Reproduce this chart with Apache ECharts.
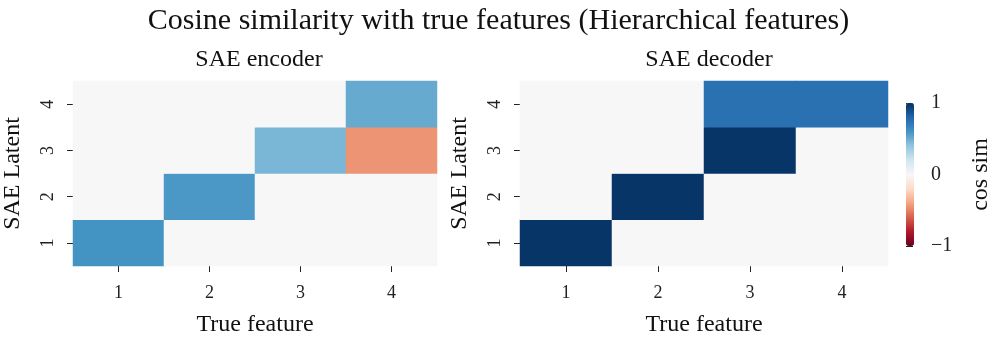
<!DOCTYPE html>
<html>
<head>
<meta charset="utf-8">
<script src="https://cdn.jsdelivr.net/npm/echarts@6/dist/echarts.min.js"></script>
<style>
  html, body { margin: 0; padding: 0; background: #fff; }
  #chart1 { width: 997px; height: 342px; }
</style>
</head>
<body>
<div id="chart1"></div>
<script>
var features = ['1', '2', '3', '4'];
var latents = ['1', '2', '3', '4'];
// rows = SAE latent 1..4, columns = true feature 1..4
var encoderValues = [
    [0.60, 0, 0, 0],
    [0, 0.58, 0, 0],
    [0, 0, 0.46, -0.45],
    [0, 0, 0, 0.51]
];
var decoderValues = [
    [0.98, 0, 0, 0],
    [0, 0.98, 0, 0],
    [0, 0, 0.98, 0],
    [0, 0, 0.75, 0.75]
];
var colorbarTicks = [-1, 0, 1];

var font = 'Liberation Serif';
var rdbu = ['#67001f', '#b2182b', '#d6604d', '#f4a582', '#fddbc7', '#f7f7f7',
    '#d1e5f0', '#92c5de', '#4393c3', '#2166ac', '#053061'];

function toCells(values) {
    var out = [];
    for (var r = 0; r < values.length; r++) {
        for (var c = 0; c < values[r].length; c++) {
            out.push([c, r, values[r][c]]);
        }
    }
    return out;
}

function xAxisFor(idx) {
    return {
        type: 'category', gridIndex: idx, data: features,
        name: 'True feature', nameLocation: 'middle', nameGap: 47,
        nameTextStyle: { fontFamily: font, fontSize: 24, color: '#111' },
        axisLine: { show: false },
        axisTick: { show: true, alignWithLabel: true, length: 6, lineStyle: { color: '#222' } },
        axisLabel: { fontFamily: font, fontSize: 18, color: '#222', margin: 18 },
        splitArea: { show: false }
    };
}
function yAxisFor(idx) {
    return {
        type: 'category', gridIndex: idx, data: latents,
        name: 'SAE Latent', nameLocation: 'middle', nameGap: 48,
        nameTextStyle: { fontFamily: font, fontSize: 24, color: '#111' },
        axisLine: { show: false },
        axisTick: { show: true, alignWithLabel: true, length: 6, lineStyle: { color: '#222' } },
        axisLabel: { fontFamily: font, fontSize: 18, color: '#222', rotate: 90, margin: 16 }
    };
}

var chart1 = echarts.init(document.getElementById('chart1'));
var option = {
    backgroundColor: '#fff',
    animation: false,
    title: [
        { text: 'Cosine similarity with true features (Hierarchical features)', left: 'center', top: 1,
          textStyle: { fontFamily: font, fontSize: 30, fontWeight: 'normal', color: '#111' } },
        { text: 'SAE encoder', left: 254, textAlign: 'center', top: 43,
          textStyle: { fontFamily: font, fontSize: 24, fontWeight: 'normal', color: '#111' } },
        { text: 'SAE decoder', left: 704, textAlign: 'center', top: 43,
          textStyle: { fontFamily: font, fontSize: 24, fontWeight: 'normal', color: '#111' } }
    ],
    grid: [
        { left: 72, top: 81, width: 365, height: 188 },
        { left: 520, top: 81, width: 368, height: 188 },
        { left: 906, top: 103, width: 8, height: 143 }
    ],
    xAxis: [
        xAxisFor(0),
        xAxisFor(1),
        { type: 'value', gridIndex: 2, show: false, min: 0, max: 1 }
    ],
    yAxis: [
        yAxisFor(0),
        yAxisFor(1),
        {
            type: 'value', gridIndex: 2, position: 'right', min: -1, max: 1, interval: 1,
            name: 'cos sim', nameLocation: 'middle', nameGap: 55, nameRotate: 90,
            nameTextStyle: { fontFamily: font, fontSize: 24, color: '#111' },
            axisLine: { show: false },
            splitLine: { show: false },
            axisTick: { show: true, length: 7, lineStyle: { color: '#222' } },
            axisLabel: {
                fontFamily: font, fontSize: 20, color: '#222', margin: 17,
                formatter: function (v) { return v < 0 ? '\u2212' + Math.abs(v) : String(v); }
            }
        }
    ],
    visualMap: {
        type: 'continuous', min: -1, max: 1, seriesIndex: [0, 1],
        calculable: false, show: true, text: ['', ''], showLabel: false,
        left: 906, top: 103, itemWidth: 8, itemHeight: 143, padding: 0,
        inRange: { color: rdbu }
    },
    series: [
        { type: 'heatmap', xAxisIndex: 0, yAxisIndex: 0, data: toCells(encoderValues),
          itemStyle: { borderWidth: 0 } },
        { type: 'heatmap', xAxisIndex: 1, yAxisIndex: 1, data: toCells(decoderValues),
          itemStyle: { borderWidth: 0 } }
    ]
};
chart1.setOption(option, true);
</script>
</body>
</html>
